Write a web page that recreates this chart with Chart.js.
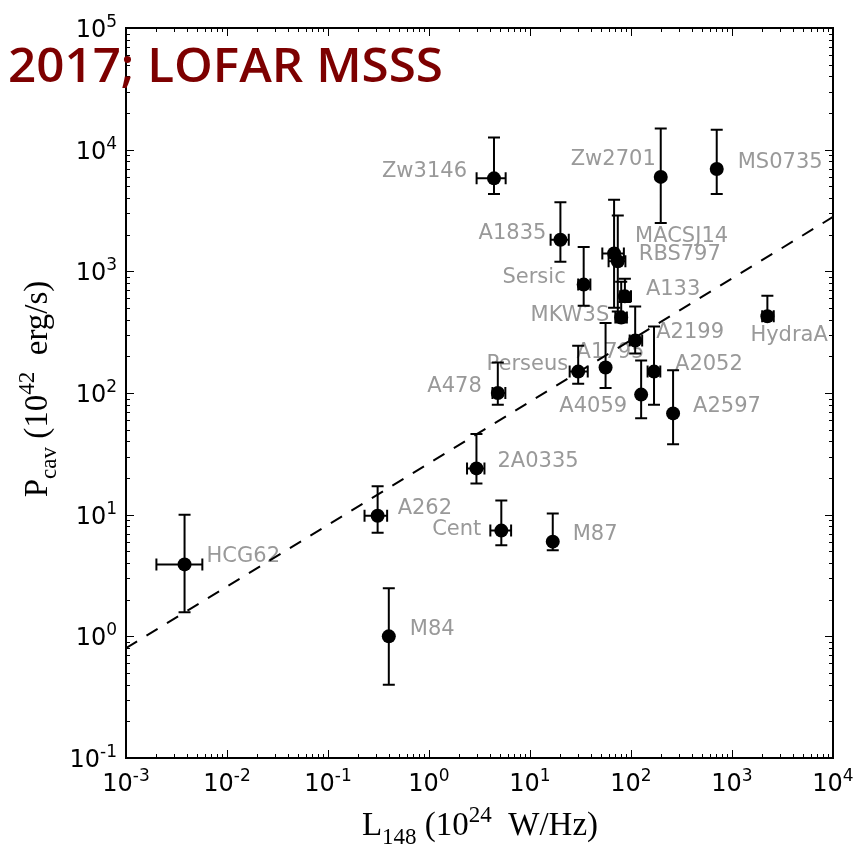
<!DOCTYPE html>
<html>
<head>
<meta charset="utf-8">
<script src="https://cdn.jsdelivr.net/npm/chart.js@4.4.1/dist/chart.umd.min.js"></script>
<style>
    html, body { margin: 0; padding: 0; background: #fff; }
    #wrap { width: 854px; height: 846px; }
</style>
</head>
<body>
<div id="wrap"><canvas id="cavityChart" width="854" height="846"></canvas></div>
<script>
// Cavity power vs 148 MHz radio luminosity for the cluster sample
const clusterNames = ['HCG62', 'M84', 'A262', '2A0335', 'Cent', 'M87', 'A478', 'Perseus',
    'A1795', 'A4059', 'A2052', 'A2597', 'A2199', 'MKW3S', 'A133', 'Sersic', 'A1835',
    'MACSJ14', 'RBS797', 'Zw3146', 'Zw2701', 'MS0735', 'HydraA'];

// L148 in 10^24 W/Hz (null = no error bar on x)
const radioLum   = [0.0038, 0.40, 0.31, 2.95, 5.2, 16.8, 4.8, 30, 56, 126, 169, 261, 110, 80, 87, 34, 20, 68, 74, 4.4, 197, 706, 2240];
const radioLumLo = [0.0020, null, 0.23, 2.38, 4.05, null, 4.25, 24.7, null, null, 146, null, 97, 70, 78, 30, 16, 52, 60, 2.96, null, null, 1990];
const radioLumHi = [0.0057, null, 0.385, 3.54, 6.5, null, 5.7, 37.3, null, null, 195, null, 129, 91, 100, 39.6, 24.2, 85, 88, 5.74, null, null, 2590];

// Pcav in 10^42 erg/s
const cavPower   = [3.9, 1.0, 9.8, 24, 7.4, 6.0, 100, 150, 162, 97, 150, 68, 270, 417, 623, 778, 1820, 1400, 1210, 5810, 5970, 6940, 427];
const cavPowerLo = [1.58, 0.40, 7.1, 18, 5.6, 5.1, 80, 119, 110, 62, 80, 38, 211, 380, 560, 522, 1200, 503, 467, 4330, 2500, 4330, 427];
const cavPowerHi = [10, 2.48, 17.1, 46, 13.1, 10.2, 178, 245, 377, 185, 352, 154, 515, 823, 870, 1585, 3690, 3880, 2870, 12600, 14900, 14600, 630];

// best-fit power law, end points
const fitLum   = [1e-3, 1e4];
const fitPower = [0.8, 2800];

const xTickExps = [-3, -2, -1, 0, 1, 2, 3, 4];
const yTickExps = [-1, 0, 1, 2, 3, 4, 5];

// where each name sits relative to its point: [dx, dy, align]
const labelPlacement = [
    [22, -8, 'left'], [21, -7, 'left'], [20, -7, 'left'], [21, -7, 'left'],
    [-20, -1, 'right'], [20, -7, 'left'], [-16, -6, 'right'], [-10, -7, 'right'],
    [-29, -15, 'left'], [-14, 12, 'right'], [21, -7, 'left'], [20, -7, 'left'],
    [21, -8, 'left'], [-12, -2, 'right'], [21, -7, 'left'], [-18, -7, 'right'],
    [-14, -6, 'right'], [21, -17, 'left'], [21, -7, 'left'], [-27, -7, 'right'],
    [-5, -17, 'right'], [21, -6, 'left'], [-17, 19, 'left']
];

const SANS = "'DejaVu Sans', sans-serif";
const SERIF = "'Liberation Serif', 'DejaVu Serif', serif";

// draw a run of text pieces with their own fonts and vertical shifts
function drawRich(ctx, parts, x, y, align) {
    let total = 0;
    parts.forEach(p => {
        ctx.font = p.font;
        p.w = ctx.measureText(p.text).width;
        total += p.w;
    });
    let cx = x;
    if (align === 'center') cx = x - total / 2;
    else if (align === 'right') cx = x - total;
    ctx.textAlign = 'left';
    ctx.textBaseline = 'alphabetic';
    parts.forEach(p => {
        ctx.font = p.font;
        ctx.fillText(p.text, cx, y + (p.dy || 0));
        cx += p.w;
    });
}

function powerLabel(exp) {
    return [
        { text: '10', font: '24px ' + SANS },
        { text: String(exp), font: '17px ' + SANS, dy: -10 }
    ];
}

// cluster names, under the marks
const nameLabels = {
    id: 'nameLabels',
    beforeDatasetsDraw(chart) {
        const { ctx, scales: { x, y } } = chart;
        ctx.save();
        ctx.font = '21px ' + SANS;
        ctx.fillStyle = '#999999';
        ctx.textBaseline = 'middle';
        clusterNames.forEach((name, i) => {
            const [dx, dy, align] = labelPlacement[i];
            ctx.textAlign = align;
            ctx.fillText(name, x.getPixelForValue(radioLum[i]) + dx, y.getPixelForValue(cavPower[i]) + dy);
        });
        ctx.restore();
    }
};

// error bars with caps, drawn just before the points
const errorBars = {
    id: 'errorBars',
    beforeDatasetDraw(chart, args) {
        if (args.index !== 0) return;
        const { ctx, scales: { x, y } } = chart;
        const cap = 6;
        ctx.save();
        ctx.strokeStyle = '#000';
        ctx.lineWidth = 2;
        ctx.beginPath();
        radioLum.forEach((lum, i) => {
            const px = x.getPixelForValue(lum);
            const py = y.getPixelForValue(cavPower[i]);
            const top = y.getPixelForValue(cavPowerHi[i]);
            const bot = y.getPixelForValue(cavPowerLo[i]);
            ctx.moveTo(px, top); ctx.lineTo(px, bot);
            ctx.moveTo(px - cap, top); ctx.lineTo(px + cap, top);
            ctx.moveTo(px - cap, bot); ctx.lineTo(px + cap, bot);
            if (radioLumLo[i] !== null) {
                const left = x.getPixelForValue(radioLumLo[i]);
                const right = x.getPixelForValue(radioLumHi[i]);
                ctx.moveTo(left, py); ctx.lineTo(right, py);
                ctx.moveTo(left, py - cap); ctx.lineTo(left, py + cap);
                ctx.moveTo(right, py - cap); ctx.lineTo(right, py + cap);
            }
        });
        ctx.stroke();
        ctx.restore();
    }
};

// box, inward ticks on all four sides, tick labels, axis titles, banner
const frameAndAxes = {
    id: 'frameAndAxes',
    afterDraw(chart) {
        const { ctx, chartArea: a, scales: { x, y } } = chart;
        ctx.save();
        ctx.strokeStyle = '#000';
        ctx.fillStyle = '#000';

        ctx.lineWidth = 1;
        ctx.beginPath();
        xTickExps.forEach((e, k) => {
            const major = Math.round(x.getPixelForValue(Math.pow(10, e))) + 0.5;
            ctx.moveTo(major, a.bottom); ctx.lineTo(major, a.bottom - 8);
            ctx.moveTo(major, a.top); ctx.lineTo(major, a.top + 8);
            if (k === xTickExps.length - 1) return;
            for (let m = 2; m <= 9; m++) {
                const px = Math.round(x.getPixelForValue(m * Math.pow(10, e))) + 0.5;
                ctx.moveTo(px, a.bottom); ctx.lineTo(px, a.bottom - 4);
                ctx.moveTo(px, a.top); ctx.lineTo(px, a.top + 4);
            }
        });
        yTickExps.forEach((e, k) => {
            const major = Math.round(y.getPixelForValue(Math.pow(10, e))) + 0.5;
            ctx.moveTo(a.left, major); ctx.lineTo(a.left + 8, major);
            ctx.moveTo(a.right, major); ctx.lineTo(a.right - 8, major);
            if (k === yTickExps.length - 1) return;
            for (let m = 2; m <= 9; m++) {
                const py = Math.round(y.getPixelForValue(m * Math.pow(10, e))) + 0.5;
                ctx.moveTo(a.left, py); ctx.lineTo(a.left + 4, py);
                ctx.moveTo(a.right, py); ctx.lineTo(a.right - 4, py);
            }
        });
        ctx.stroke();

        ctx.lineWidth = 2;
        ctx.strokeRect(a.left, a.top, a.right - a.left, a.bottom - a.top);

        xTickExps.forEach(e => {
            drawRich(ctx, powerLabel(e), x.getPixelForValue(Math.pow(10, e)), a.bottom + 33, 'center');
        });
        yTickExps.forEach(e => {
            drawRich(ctx, powerLabel(e), a.left - 9, y.getPixelForValue(Math.pow(10, e)) + 9, 'right');
        });

        drawRich(ctx, [
            { text: 'L', font: '33px ' + SERIF },
            { text: '148', font: '23px ' + SERIF, dy: 9 },
            { text: ' (10', font: '33px ' + SERIF },
            { text: '24', font: '23px ' + SERIF, dy: -13 },
            { text: '  W/Hz)', font: '33px ' + SERIF }
        ], 480, 835, 'center');

        ctx.save();
        ctx.translate(47, 389);
        ctx.rotate(-Math.PI / 2);
        drawRich(ctx, [
            { text: 'P', font: '33px ' + SERIF },
            { text: 'cav', font: '23px ' + SERIF, dy: 9 },
            { text: ' (10', font: '33px ' + SERIF },
            { text: '42', font: '23px ' + SERIF, dy: -13 },
            { text: '  erg/s)', font: '33px ' + SERIF }
        ], 0, 0, 'center');
        ctx.restore();

        // banner across the top left
        const banner = '2017; LOFAR MSSS';
        ctx.font = "600 47px 'Open Sans', sans-serif";
        const w = ctx.measureText(banner).width;
        ctx.save();
        ctx.translate(8, 82);
        ctx.scale(435 / w, 1);
        ctx.fillStyle = '#7d0000';
        ctx.textAlign = 'left';
        ctx.textBaseline = 'alphabetic';
        ctx.fillText(banner, 0, 0);
        ctx.restore();

        ctx.restore();
    }
};

const clusterPoints = radioLum.map((lum, i) => ({ x: lum, y: cavPower[i] }));
const fitPoints = fitLum.map((lum, i) => ({ x: lum, y: fitPower[i] }));

new Chart(document.getElementById('cavityChart'), {
    type: 'scatter',
    data: {
        datasets: [
            {
                label: 'clusters',
                data: clusterPoints,
                backgroundColor: '#000',
                borderWidth: 0,
                pointRadius: 7,
                pointHoverRadius: 7
            },
            {
                type: 'line',
                label: 'fit',
                data: fitPoints,
                borderColor: '#000',
                borderWidth: 2,
                borderDash: [13, 11],
                pointRadius: 0,
                fill: false,
                tension: 0
            }
        ]
    },
    options: {
        responsive: false,
        animation: false,
        devicePixelRatio: 1,
        layout: { padding: { left: 126, right: 21, top: 28, bottom: 88 } },
        plugins: {
            legend: { display: false },
            tooltip: { enabled: false }
        },
        scales: {
            x: { type: 'logarithmic', min: 1e-3, max: 1e4, display: false },
            y: { type: 'logarithmic', min: 0.1, max: 1e5, display: false }
        }
    },
    plugins: [nameLabels, errorBars, frameAndAxes]
});
</script>
</body>
</html>
